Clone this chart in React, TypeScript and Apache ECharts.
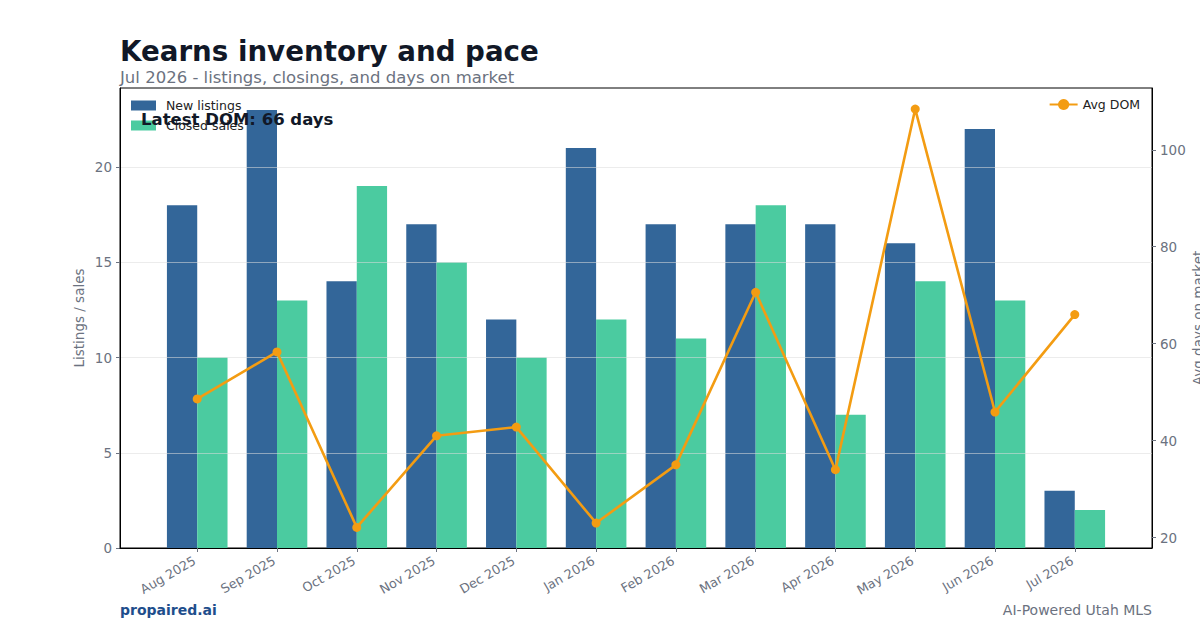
import React, { useEffect, useRef } from "react";
import * as echarts from "echarts";

// Monthly market figures for Kearns
const months = [
  "Aug 2025", "Sep 2025", "Oct 2025", "Nov 2025", "Dec 2025", "Jan 2026",
  "Feb 2026", "Mar 2026", "Apr 2026", "May 2026", "Jun 2026", "Jul 2026",
];
const newListings = [18, 23, 14, 17, 12, 21, 17, 17, 17, 16, 22, 3];
const closedSales = [10, 13, 19, 15, 10, 12, 11, 18, 7, 14, 13, 2];
const avgDom = [48.6, 58.3, 22.1, 41.0, 42.8, 23.0, 35.0, 70.6, 34.0, 108.4, 45.9, 66];

const leftTicks = [0, 5, 10, 15, 20];
const rightTicks = [20, 40, 60, 80, 100];

const FONT = "DejaVu Sans";
const GRAY = "#6b7280";
const DARK = "#111827";

export default function App() {
  const ref = useRef<HTMLDivElement>(null);

  useEffect(() => {
    const chart = echarts.init(ref.current!, null, { renderer: "svg" });
    const idx = months.map((_, i) => i);
    const latest = Math.round(avgDom[avgDom.length - 1]);

    chart.setOption({
      animation: false,
      backgroundColor: "#ffffff",
      textStyle: { fontFamily: FONT },
      grid: {
        left: 120, right: 48, top: 88, bottom: 82,
        outerBoundsMode: "none",
        containLabel: false,
        show: true, borderColor: "#000", borderWidth: 1,
        backgroundColor: "transparent",
      },
      legend: [
        {
          data: ["New listings", "Closed sales"],
          left: 131, top: 99, orient: "vertical", padding: 0,
          itemWidth: 25, itemHeight: 10, itemGap: 7,
          icon: "rect",
          textStyle: { fontFamily: FONT, fontSize: 12.5, color: "#222", padding: [0, 0, 0, 5] },
        },
        {
          data: ["Avg DOM"],
          right: 60, top: 98, padding: 0,
          itemWidth: 28, itemHeight: 14,
          textStyle: { fontFamily: FONT, fontSize: 12.5, color: "#222" },
        },
      ],
      xAxis: {
        type: "value",
        min: -0.968, max: 11.968,
        z: 10,
        axisLine: { show: true, onZero: false, lineStyle: { color: "#000", width: 1 } },
        axisTick: { show: true, length: 4, customValues: idx, lineStyle: { color: GRAY } },
        axisLabel: {
          customValues: idx,
          rotate: 30,
          margin: 10,
          padding: [0, 3, 0, 0],
          fontFamily: FONT, fontSize: 12.8, color: GRAY,
          formatter: (v: number) => months[Math.round(v)] ?? "",
        },
        splitLine: { show: false },
      },
      yAxis: [
        {
          type: "value",
          min: 0, max: 24.15,
          z: 3,
          name: "Listings / sales",
          nameLocation: "middle",
          nameGap: 34,
          nameMoveOverlap: false,
          nameTextStyle: { fontFamily: FONT, fontSize: 13.5, color: GRAY },
          axisLine: { show: true, onZero: false, lineStyle: { color: "#000", width: 1 } },
          axisTick: { show: true, length: 4, customValues: leftTicks, lineStyle: { color: GRAY } },
          axisLabel: {
            customValues: leftTicks,
            fontFamily: FONT, fontSize: 13.5, color: GRAY, margin: 8,
          },
          interval: 5,
          splitLine: { show: true, lineStyle: { color: "rgba(220,220,220,0.55)", width: 1 } },
        },
        {
          type: "value",
          min: 17.85, max: 112.75,
          position: "right",
          z: 3,
          name: "Avg days on market",
          nameLocation: "middle",
          nameGap: 39,
          nameRotate: 90,
          nameMoveOverlap: false,
          nameTextStyle: { fontFamily: FONT, fontSize: 13.5, color: GRAY },
          axisLine: { show: true, onZero: false, lineStyle: { color: "#000", width: 1 } },
          axisTick: { show: true, length: 4, customValues: rightTicks, lineStyle: { color: GRAY } },
          axisLabel: {
            customValues: rightTicks,
            fontFamily: FONT, fontSize: 13.5, color: GRAY, margin: 8,
          },
          splitLine: { show: false },
        },
      ],
      series: [
        {
          name: "New listings",
          type: "bar",
          barWidth: 30.3,
          barGap: "0%",
          itemStyle: { color: "#336699" },
          data: newListings.map((v, i) => [i, v]),
        },
        {
          name: "Closed sales",
          type: "bar",
          barWidth: 30.3,
          barGap: "0%",
          itemStyle: { color: "#4bcba0" },
          data: closedSales.map((v, i) => [i, v]),
        },
        {
          name: "Avg DOM",
          type: "line",
          yAxisIndex: 1,
          z: 6,
          symbol: "circle",
          symbolSize: 9,
          lineStyle: { color: "#f39c12", width: 2.6 },
          itemStyle: { color: "#f39c12" },
          data: avgDom.map((v, i) => [i, v]),
        },
      ],
      graphic: [
        {
          type: "text", left: 120, top: 37, z: 20,
          style: { text: "Kearns inventory and pace", font: `bold 27.7px '${FONT}'`, fill: DARK },
        },
        {
          type: "text", left: 120, top: 69, z: 20,
          style: { text: "Jul 2026 - listings, closings, and days on market", font: `16.5px '${FONT}'`, fill: GRAY },
        },
        {
          type: "text", left: 141, top: 111, z: 20,
          style: { text: `Latest DOM: ${latest} days`, font: `bold 16.5px '${FONT}'`, fill: DARK },
        },
        {
          type: "text", left: 120, top: 603, z: 20,
          style: { text: "propaired.ai", font: `bold 14px '${FONT}'`, fill: "#1e4e8c" },
        },
        {
          type: "text", right: 48, top: 603, z: 20,
          style: { text: "AI-Powered Utah MLS", font: `14px '${FONT}'`, fill: GRAY },
        },
      ],
    });

    return () => chart.dispose();
  }, []);

  return (
    <div
      ref={ref}
      style={{ position: "fixed", left: 0, top: 0, width: 1200, height: 630 }}
    />
  );
}
